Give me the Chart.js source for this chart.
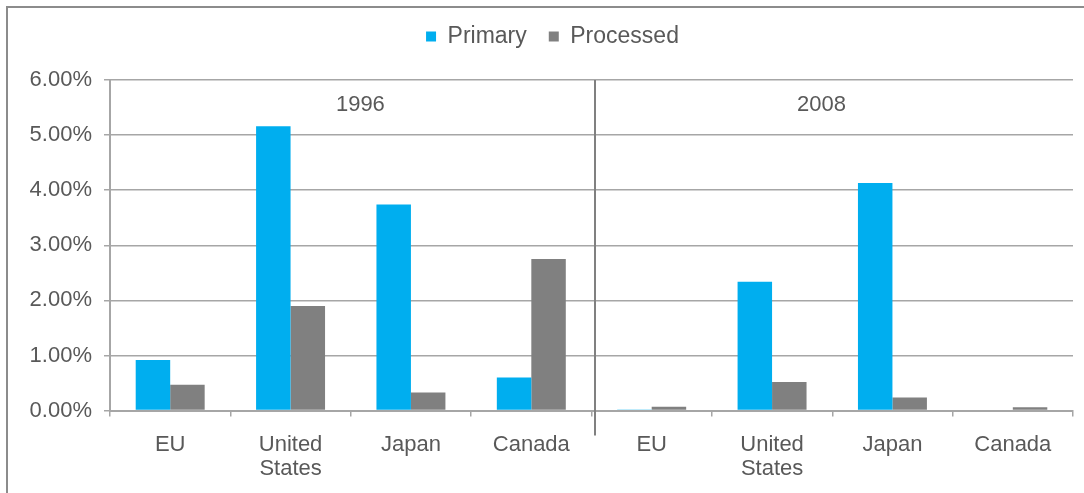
<!DOCTYPE html>
<html>
<head>
<meta charset="utf-8">
<script src="https://cdn.jsdelivr.net/npm/chart.js@4/dist/chart.umd.min.js"></script>
<style>
  html, body { margin: 0; padding: 0; background: #fff; overflow: hidden; }
  .frame {
    position: absolute; left: 6px; top: 6px;
    width: 1090px; height: 500px;
    border-left: 2px solid #8c8c8c; border-top: 2px solid #8c8c8c;
  }
  .frame canvas { position: absolute; left: 0; top: 0; }
</style>
</head>
<body>
<div class="frame">
  <canvas id="chart" width="1076" height="490" style="width:1076px;height:490px"></canvas>
</div>
<script>
// Data (percent)
const categories = ["EU", ["United", "States"], "Japan", "Canada", "EU", ["United", "States"], "Japan", "Canada"];
const primary = [0.92, 5.16, 3.74, 0.60, 0.02, 2.34, 4.13, 0.0];
const processed = [0.47, 1.90, 0.33, 2.75, 0.07, 0.52, 0.24, 0.06];
const yearLabels = ["1996", "2008"];
const yTicks = [0, 1, 2, 3, 4, 5, 6];

const textColor = "#595959";
const gridColor = "#a6a6a6";
const fontFamily = "'Liberation Sans', Arial, sans-serif";

// Extra room under the legend, and nudge it a bit to the right
const legendGap = {
  id: "legendGap",
  beforeInit(chart) {
    const fit = chart.legend.fit;
    chart.legend.fit = function () {
      fit.bind(chart.legend)();
      this.height += 22;
    };
  },
  beforeDraw(chart) {
    chart.legend.left += 12;
    chart.legend.right += 12;
  },
  afterDraw(chart) {
    chart.legend.left -= 12;
    chart.legend.right -= 12;
  },
};

// Year labels and the divider between the two periods
const periods = {
  id: "periods",
  afterDatasetsDraw(chart) {
    const { ctx, scales: { x, y }, chartArea } = chart;
    ctx.save();
    ctx.strokeStyle = "#808080";
    ctx.lineWidth = 2;
    const sx = Math.round(x.getPixelForValue(3.53));
    ctx.beginPath();
    ctx.moveTo(sx, y.getPixelForValue(6));
    ctx.lineTo(sx, chartArea.bottom + 25);
    ctx.stroke();

    ctx.fillStyle = textColor;
    ctx.font = "22px " + fontFamily;
    ctx.textAlign = "center";
    ctx.textBaseline = "middle";
    ctx.fillText(yearLabels[0], x.getPixelForValue(1.58), y.getPixelForValue(5.55));
    ctx.fillText(yearLabels[1], x.getPixelForValue(5.41), y.getPixelForValue(5.55));
    ctx.restore();
  },
};

new Chart(document.getElementById("chart"), {
  type: "bar",
  data: {
    labels: categories,
    datasets: [
      { label: "Primary", data: primary, backgroundColor: "#00aeef" },
      { label: "Processed", data: processed, backgroundColor: "#808080" },
    ],
  },
  options: {
    responsive: false,
    animation: false,
    devicePixelRatio: 1,
    categoryPercentage: 0.573,
    barPercentage: 1.0,
    layout: { padding: { top: -5, right: 11, bottom: 1, left: 0 } },
    plugins: {
      legend: {
        position: "top",
        labels: {
          boxWidth: 10,
          boxHeight: 10,
          padding: 22,
          color: textColor,
          font: { size: 23, family: fontFamily },
        },
      },
      tooltip: { enabled: false },
    },
    scales: {
      x: {
        grid: { display: true, drawOnChartArea: false, drawTicks: true, tickLength: 6, color: gridColor, lineWidth: 1.5, offset: true },
        border: { color: gridColor, width: 2 },
        ticks: { color: textColor, font: { size: 22, family: fontFamily, lineHeight: 1.1 }, padding: 16, maxRotation: 0, autoSkip: false },
      },
      y: {
        min: 0,
        max: 6,
        afterFit: (scale) => { scale.width = 102; },
        afterBuildTicks: (scale) => { scale.ticks = yTicks.map((v) => ({ value: v })); },
        grid: { color: gridColor, lineWidth: 1.5, tickLength: 6 },
        border: { color: gridColor, width: 2 },
        ticks: {
          color: textColor,
          font: { size: 22, family: fontFamily },
          padding: 12,
          callback: (v) => v.toFixed(2) + "%",
        },
      },
    },
  },
  plugins: [legendGap, periods],
});
</script>
</body>
</html>
